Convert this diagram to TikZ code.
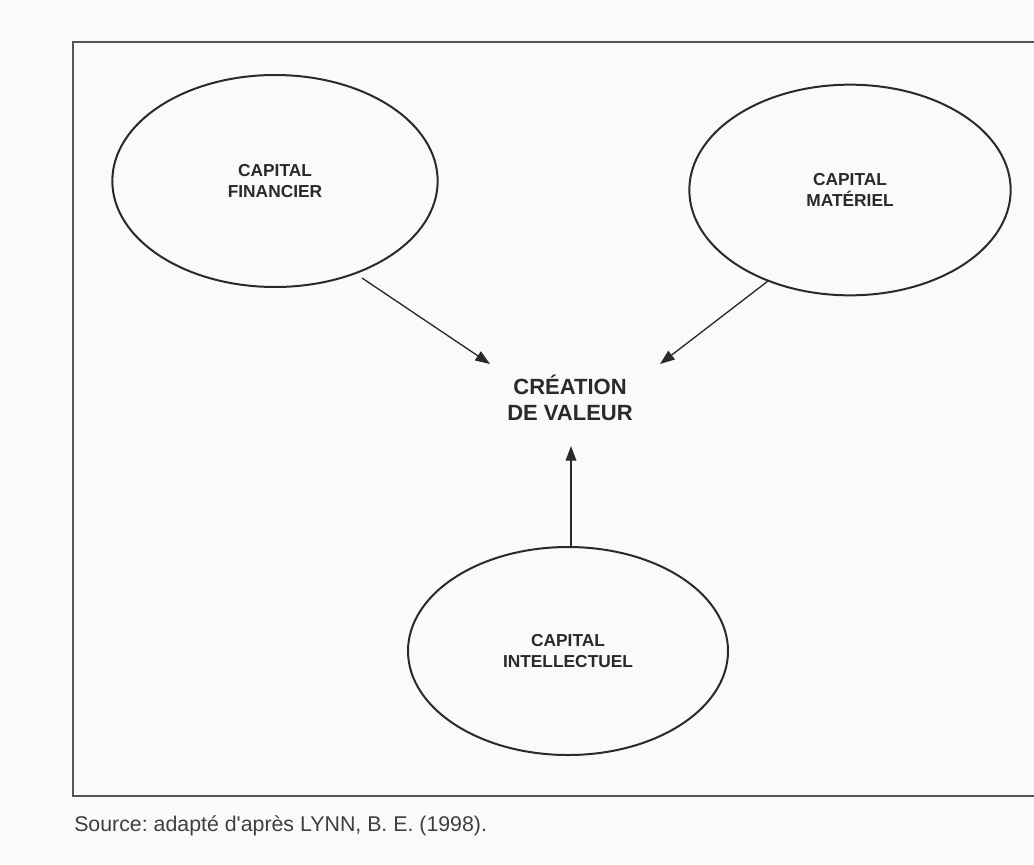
\documentclass[tikz,border=0pt]{standalone}
\usepackage{fontspec}
\setmainfont{Liberation Sans}
\usetikzlibrary{arrows.meta,shapes.geometric}
\definecolor{ink}{HTML}{2A2A2A}
\definecolor{paper}{HTML}{FAFAFA}
\begin{document}
\frenchspacing
\begin{tikzpicture}[x=0.75pt,y=-0.75pt,
  capital/.style={draw=ink,line width=1.5pt,ellipse,inner sep=0pt,align=center,
    font=\bfseries\fontsize{13}{16}\selectfont,text=ink},
  flow/.style={draw=ink,line width=1pt,-{Triangle[length=11pt,width=8pt]}},
  frame/.style={draw=ink!80,line width=1.8pt}]
\useasboundingbox[fill=paper] (0,0) rectangle (1034,864);
\draw[frame] (1040,42) -- (73,42) -- (73,796) -- (1040,796);
% ellipse sizes in pt (1px = 0.75pt)
\node[capital,minimum width=244pt,minimum height=159pt] (fin) at (275,181) {CAPITAL\\FINANCIER};
\node[capital,minimum width=241pt,minimum height=158pt] (mat) at (850,190) {CAPITAL\\MATÉRIEL};
\node[capital,minimum width=240pt,minimum height=156pt] (int) at (568,651) {CAPITAL\\INTELLECTUEL};
\node[align=center,font=\bfseries\fontsize{16.5}{20}\selectfont,text=ink,inner sep=4pt] (val) at (570,398) {CRÉATION\\DE VALEUR};
\coordinate (finStart) at (362,278);
\coordinate (matStart) at (768,281);
\coordinate (finEnd) at (490,364);
\coordinate (matEnd) at (660,364);
\coordinate (intEnd) at (571,446);
\draw[flow] (finStart) -- (finEnd);
\draw[flow] (matStart) -- (matEnd);
\draw[flow] (int.north -| intEnd) -- (intEnd);
\node[anchor=west,font=\fontsize{16}{19}\selectfont,text=ink!90,inner sep=0pt] (src) at (74,826) {Source: adapté d\textquotesingle après LYNN, B. E. (1998).};
\end{tikzpicture}
\end{document}
